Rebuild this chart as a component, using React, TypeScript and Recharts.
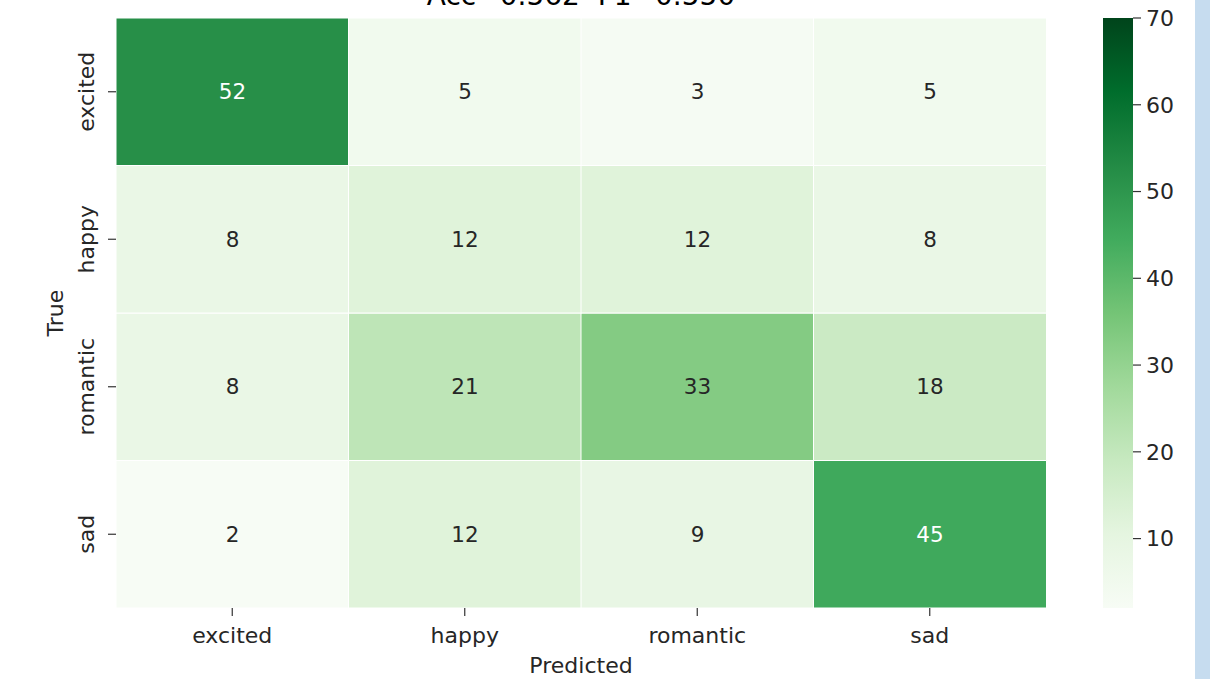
import React from 'react';
import { BarChart, Bar, XAxis, YAxis, Cell, LabelList } from 'recharts';

const predictedLabels = ['excited', 'happy', 'romantic', 'sad'];
const trueLabels = ['excited', 'happy', 'romantic', 'sad'];
const excitedRow = [52, 5, 3, 5];
const happyRow = [8, 12, 12, 8];
const romanticRow = [8, 21, 33, 18];
const sadRow = [2, 12, 9, 45];
const colorbarTicks = [10, 20, 30, 40, 50, 60, 70];
const colorMin = 2;
const colorMax = 70;
const titleText = 'Acc=0.562  F1=0.550';
const greens = ['#f7fcf5', '#e5f5e0', '#c7e9c0', '#a1d99b', '#74c476', '#41ab5d', '#238b45', '#006d2c', '#00441b'];

const rowsByLabel: Record<string, number[]> = {
  excited: excitedRow,
  happy: happyRow,
  romantic: romanticRow,
  sad: sadRow,
};

const FONT = 'DejaVu Sans, sans-serif';
const TEXT = '#262626';

function hexToRgb(h: string) {
  const n = parseInt(h.slice(1), 16);
  return [(n >> 16) & 255, (n >> 8) & 255, n & 255];
}
function cmapRgb(v: number) {
  let t = (v - colorMin) / (colorMax - colorMin);
  t = Math.max(0, Math.min(1, t));
  const p = t * (greens.length - 1);
  const i = Math.min(Math.floor(p), greens.length - 2);
  const f = p - i;
  const a = hexToRgb(greens[i]);
  const b = hexToRgb(greens[i + 1]);
  return a.map((c, k) => Math.round(c + (b[k] - c) * f));
}
function cmap(v: number) {
  const [r, g, b] = cmapRgb(v);
  return `rgb(${r},${g},${b})`;
}
function textColorFor(v: number) {
  const lin = cmapRgb(v).map((c) => {
    const s = c / 255;
    return s <= 0.03928 ? s / 12.92 : Math.pow((s + 0.055) / 1.055, 2.4);
  });
  const lum = 0.2126 * lin[0] + 0.7152 * lin[1] + 0.0722 * lin[2];
  return lum > 0.408 ? TEXT : '#ffffff';
}

const table = predictedLabels.map((p, c) => {
  const o: any = { pred: p };
  trueLabels.forEach((t) => {
    o[t + '_band'] = 1;
    o[t + '_count'] = rowsByLabel[t][c];
  });
  return o;
});

const colorbarData = [{ name: 'cb', range: [colorMin, colorMax] }];

const renderCount = (props: any) => {
  const { x, y, width, height, value } = props;
  const cx = Number(x) + Number(width) / 2;
  const cy = Number(y) + Number(height) / 2;
  return (
    <text
      x={cx}
      y={cy}
      textAnchor="middle"
      dominantBaseline="central"
      fill={textColorFor(Number(value))}
      fontSize={21.5}
      fontFamily={FONT}
    >
      {value}
    </text>
  );
};

const YTick = (props: any) => {
  const { x, y, payload } = props;
  const idx = Math.floor(payload.value);
  const label = trueLabels[trueLabels.length - 1 - idx];
  return (
    <text
      x={x}
      y={y}
      transform={`rotate(-90, ${x}, ${y})`}
      textAnchor="middle"
      fill={TEXT}
      fontSize={22}
      fontFamily={FONT}
    >
      {label}
    </text>
  );
};

const XTick = (props: any) => {
  const { x, y, payload } = props;
  return (
    <text x={x} y={y + 23} textAnchor="middle" fill={TEXT} fontSize={22} fontFamily={FONT}>
      {payload.value}
    </text>
  );
};

const stackOrder = [...trueLabels].reverse();

export default function App() {
  return (
    <div style={{ position: 'absolute', left: 0, top: 0, width: 1210, height: 679, background: '#ffffff', overflow: 'hidden' }}>
      <div style={{ position: 'absolute', left: 0, top: 0 }}>
        <BarChart
          width={1060}
          height={679}
          data={table}
          margin={{ top: 18, right: 14, bottom: 0, left: 0 }}
          barCategoryGap={0}
          barGap={0}
        >
          <XAxis
            dataKey="pred"
            type="category"
            height={71}
            axisLine={false}
            tickLine={{ stroke: '#333333', strokeWidth: 1.2 }}
            tickSize={8}
            tickMargin={4}
            tick={<XTick />}
            interval={0}
          />
          <YAxis
            type="number"
            domain={[0, 4]}
            ticks={[0.5, 1.5, 2.5, 3.5]}
            width={116}
            axisLine={false}
            tickLine={{ stroke: '#333333', strokeWidth: 1.2 }}
            tickSize={8}
            tickMargin={14}
            tick={<YTick />}
            interval={0}
          />
          {stackOrder.map((t) => (
            <Bar
              key={t}
              dataKey={t + '_band'}
              stackId="m"
              isAnimationActive={false}
              stroke="#ffffff"
              strokeWidth={1}
            >
              {table.map((d, i) => (
                <Cell key={i} fill={cmap(d[t + '_count'])} />
              ))}
              <LabelList dataKey={t + '_count'} content={renderCount} />
            </Bar>
          ))}
        </BarChart>
      </div>

      <div style={{ position: 'absolute', left: 1103, top: 0 }}>
        <BarChart
          width={110}
          height={679}
          data={colorbarData}
          margin={{ top: 18, right: 0, bottom: 71, left: 0 }}
          barCategoryGap={0}
          barGap={0}
        >
          <defs>
            <linearGradient id="cbGrad" x1="0" y1="0" x2="0" y2="1">
              {[...greens].reverse().map((c, i) => (
                <stop key={i} offset={`${(i / (greens.length - 1)) * 100}%`} stopColor={c} />
              ))}
            </linearGradient>
          </defs>
          <XAxis dataKey="name" type="category" hide />
          <YAxis
            orientation="right"
            type="number"
            domain={[colorMin, colorMax]}
            ticks={colorbarTicks}
            width={80}
            axisLine={false}
            tickLine={{ stroke: '#333333', strokeWidth: 1.2 }}
            tickSize={8}
            tickMargin={5}
            tick={{ fill: TEXT, fontSize: 22, fontFamily: FONT }}
            interval={0}
            allowDataOverflow
          />
          <Bar dataKey="range" fill="url(#cbGrad)" isAnimationActive={false} />
        </BarChart>
      </div>

      <svg
        width={1210}
        height={679}
        style={{ position: 'absolute', left: 0, top: 0, pointerEvents: 'none' }}
      >
        <text x={581} y={5} textAnchor="middle" fill="#000000" fontSize={28} fontFamily={FONT} style={{ whiteSpace: 'pre' }}>
          {titleText}
        </text>
        <text x={581} y={673} textAnchor="middle" fill={TEXT} fontSize={22} fontFamily={FONT}>
          Predicted
        </text>
        <text
          x={63}
          y={313}
          transform="rotate(-90, 63, 313)"
          textAnchor="middle"
          fill={TEXT}
          fontSize={22}
          fontFamily={FONT}
        >
          True
        </text>
      </svg>

      <div style={{ position: 'absolute', left: 1195, top: 0, width: 15, height: 679, background: '#c6dcef' }} />
    </div>
  );
}
